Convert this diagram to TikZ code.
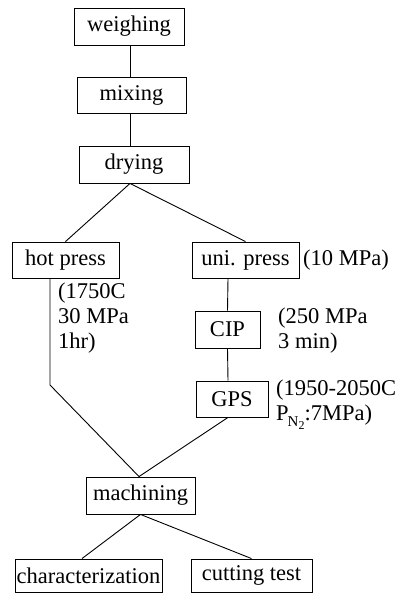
\documentclass[tikz,border=0pt]{standalone}
\usepackage{fontspec}
\setmainfont{Liberation Serif}
\begin{document}
\begin{tikzpicture}[x=1pt,y=-1pt,
  stepbox/.style={draw,line width=0.9pt,inner sep=0pt,font=\fontsize{22.5}{25}\selectfont},
  note/.style={inner sep=0pt,align=left,font=\fontsize{22.5}{25}\selectfont},
  conn/.style={line width=0.9pt}]
\useasboundingbox (0,0) rectangle (395,593);
\node[stepbox,minimum width=110pt,minimum height=37pt] (wei) at (129,26.5) {weighing};
\node[stepbox,minimum width=109pt,minimum height=36pt] (mix) at (131.5,95) {mixing};
\node[stepbox,minimum width=110pt,minimum height=37pt] (dry) at (134,164.5) {drying};
\node[stepbox,minimum width=107pt,minimum height=36pt] (hot) at (65.5,260) {hot press};
\node[stepbox,minimum width=107pt,minimum height=36pt] (uni) at (245.5,260) {uni. press};
\node[stepbox,minimum width=65pt,minimum height=37pt] (cip) at (227.5,329.5) {CIP};
\node[stepbox,minimum width=72pt,minimum height=36pt] (gps) at (232,399) {GPS};
\node[stepbox,minimum width=109pt,minimum height=37pt] (mac) at (140.5,495.5) {machining};
\node[stepbox,minimum width=147pt,minimum height=33pt] (cha) at (88.5,575.5) {characterization};
\node[stepbox,minimum width=121pt,minimum height=33pt] (cut) at (251.5,575.5) {cutting test};
\node[note,anchor=west] (n1) at (303,260) {(10 MPa)};
\node[note,anchor=north west] (n2) at (278,308) {(250 MPa\\3 min)};
\node[note,anchor=north west] (n3) at (276,380) {(1950-2050C\\P\kern-1pt\raisebox{-6pt}{\fontsize{15}{15}\selectfont N\raisebox{-3pt}{\fontsize{12}{12}\selectfont 2}}:7MPa)};
\node[note,anchor=north west] (n4) at (58,283) {(1750C\\30 MPa\\1hr)};
\coordinate (bend) at (50,385);
\draw[conn] ([xshift=1pt]wei.south) -- ([xshift=-1.5pt]mix.north);
\draw[conn] ([xshift=-1.5pt]mix.south) -- ([xshift=-4pt]dry.north);
\draw[conn] ([xshift=-4pt]dry.south) -- (hot.north);
\draw[conn] ([xshift=-4pt]dry.south) -- (uni.north);
\draw[conn] ([xshift=-17.5pt]uni.south) -- (cip.north);
\draw[conn] (cip.south) -- ([xshift=-4pt]gps.north);
\draw[conn] ([xshift=-15.5pt]hot.south) -- (bend) -- ([xshift=-1.5pt]mac.north);
\draw[conn] ([xshift=-4pt]gps.south) -- ([xshift=-1.5pt]mac.north);
\draw[conn] (mac.south) -- ([xshift=-6.5pt]cha.north);
\draw[conn] (mac.south) -- (cut.north);
\end{tikzpicture}
\end{document}
